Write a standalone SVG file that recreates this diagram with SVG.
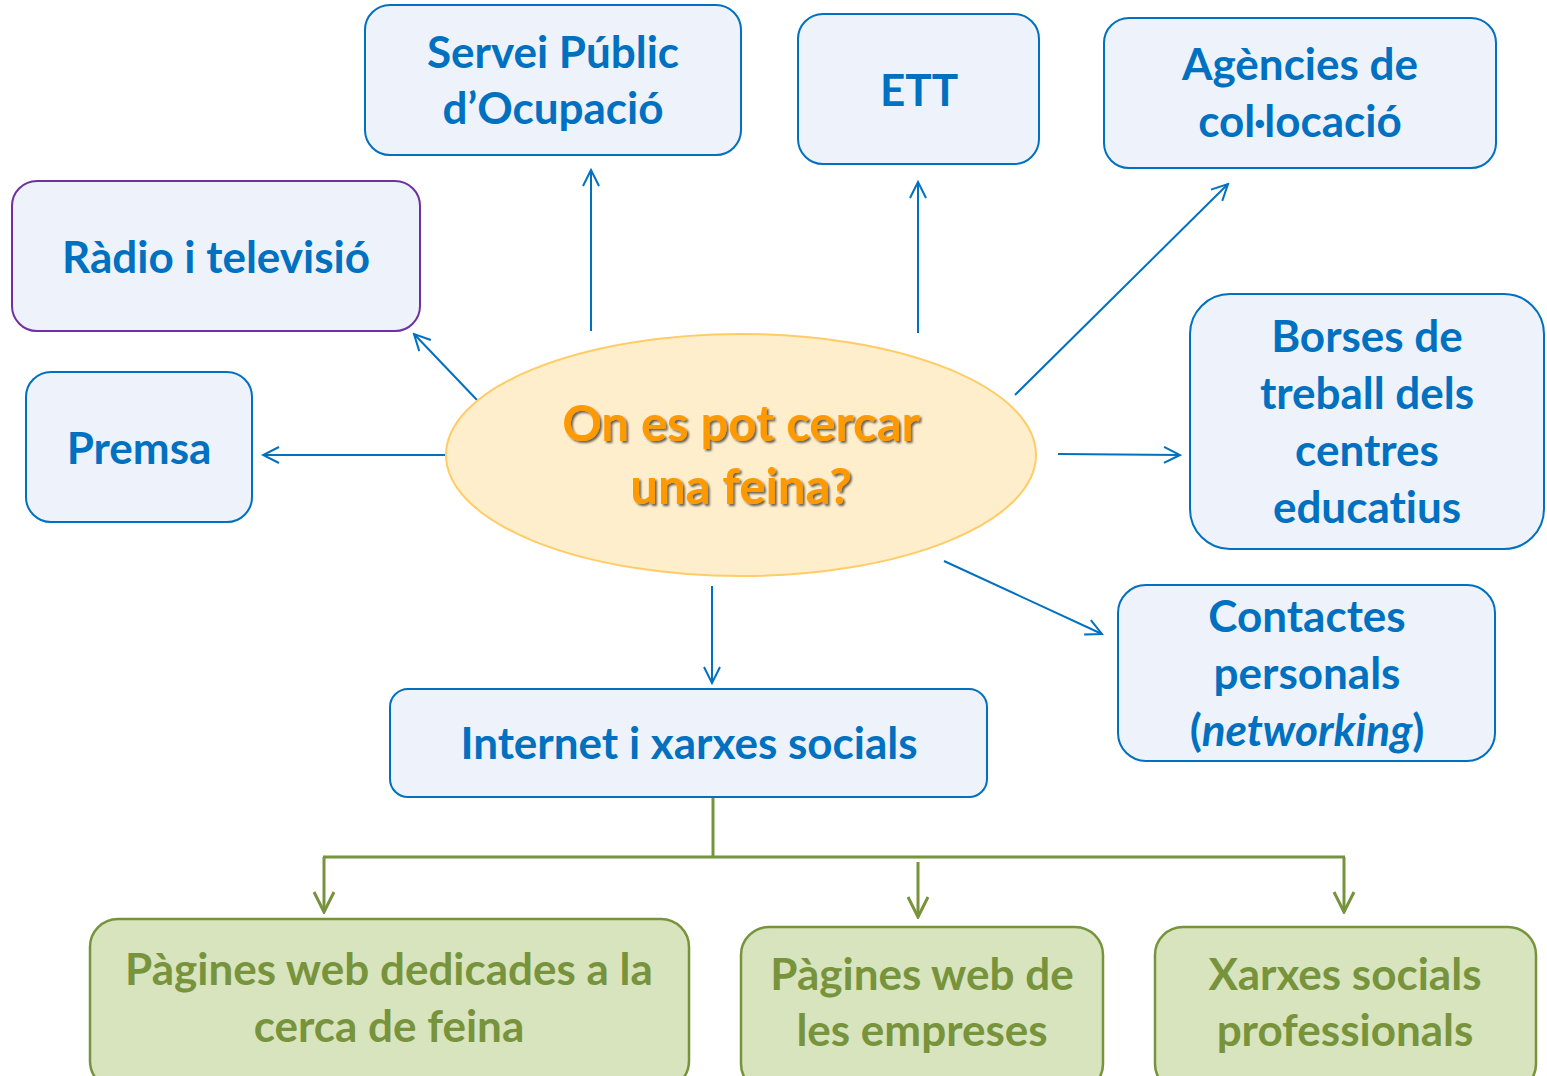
<svg xmlns="http://www.w3.org/2000/svg" width="1547" height="1076" viewBox="0 0 1547 1076">
<defs>
<style>
.bx{fill:#EEF2FA;stroke:#0070C0;stroke-width:2}
.gx{fill:#D7E4BD;stroke:#77933C;stroke-width:2.5}
.t{font-family:Lato,"Open Sans","Liberation Sans",sans-serif;font-weight:bold;font-size:44px;fill:#0070C0;text-anchor:middle;font-variant-ligatures:none}
.g{fill:#77933C}
.c{stroke:#0070C0;stroke-width:2;fill:none;marker-end:url(#ab)}
.cg{stroke:#77933C;stroke-width:3;fill:none}
.ct{font-family:Lato,"Open Sans","Liberation Sans",sans-serif;font-weight:bold;font-size:49px;fill:#FF9900;text-anchor:middle;font-variant-ligatures:none}
</style>
<marker id="ab" viewBox="0 0 20 20" refX="18" refY="10" markerWidth="20" markerHeight="20" markerUnits="userSpaceOnUse" orient="auto">
<path d="M2,2 L18,10 L2,18" fill="none" stroke="#0070C0" stroke-width="2"/>
</marker>
<marker id="ag" viewBox="0 0 24 24" refX="22" refY="12" markerWidth="24" markerHeight="24" markerUnits="userSpaceOnUse" orient="auto">
<path d="M2,2 L22,12 L2,22" fill="none" stroke="#77933C" stroke-width="3"/>
</marker>
<filter id="sh" x="-10%" y="-20%" width="120%" height="140%">
<feDropShadow dx="2" dy="2" stdDeviation="1" flood-color="#000" flood-opacity="0.6"/>
</filter>
</defs>

<g id="connectors">
<line class="c" x1="591" y1="331" x2="591" y2="170"/>
<line class="c" x1="918" y1="333" x2="918" y2="182"/>
<line class="c" x1="1015" y1="395" x2="1228" y2="184"/>
<line class="c" x1="477" y1="400" x2="414" y2="334"/>
<line class="c" x1="445" y1="455" x2="263" y2="455"/>
<line class="c" x1="1058" y1="454" x2="1180" y2="455"/>
<line class="c" x1="944" y1="561" x2="1102" y2="634"/>
<line class="c" x1="712" y1="586" x2="712" y2="683"/>
<line class="cg" x1="713" y1="797" x2="713" y2="857"/>
<line class="cg" x1="323" y1="857" x2="1345" y2="857"/>
<line class="cg" x1="324" y1="857" x2="324" y2="912" marker-end="url(#ag)"/>
<line class="cg" x1="918" y1="862" x2="918" y2="917" marker-end="url(#ag)"/>
<line class="cg" x1="1344" y1="857" x2="1344" y2="912" marker-end="url(#ag)"/>
</g>

<g id="center">
<ellipse cx="741" cy="455" rx="295" ry="121" fill="#FFEECC" stroke="#FFCC66" stroke-width="2"/>
<text class="ct" filter="url(#sh)"><tspan x="741" y="441">On es pot cercar</tspan><tspan x="741" y="504">una feina?</tspan></text>
</g>

<g id="servei">
<rect class="bx" x="365" y="5" width="376" height="150" rx="25"/>
<text class="t"><tspan x="553" y="68">Servei Públic</tspan><tspan x="553" y="124">d’Ocupació</tspan></text>
</g>
<g id="ett">
<rect class="bx" x="798" y="14" width="241" height="150" rx="25"/>
<text class="t" x="919" y="106">ETT</text>
</g>
<g id="agencies">
<rect class="bx" x="1104" y="18" width="392" height="150" rx="25"/>
<text class="t"><tspan x="1300" y="80">Agències de</tspan><tspan x="1300" y="137">col·locació</tspan></text>
</g>
<g id="radio">
<rect x="12" y="181" width="408" height="150" rx="25" fill="#EEF2FA" stroke="#7030A0" stroke-width="2"/>
<text class="t" x="216" y="273">Ràdio i televisió</text>
</g>
<g id="premsa">
<rect class="bx" x="26" y="372" width="226" height="150" rx="25"/>
<text class="t" x="139" y="464">Premsa</text>
</g>
<g id="borses">
<rect class="bx" x="1190" y="294" width="354" height="255" rx="40"/>
<text class="t"><tspan x="1367" y="352">Borses de</tspan><tspan x="1367" y="409">treball dels</tspan><tspan x="1367" y="466">centres</tspan><tspan x="1367" y="523">educatius</tspan></text>
</g>
<g id="contactes">
<rect class="bx" x="1118" y="585" width="377" height="176" rx="28"/>
<text class="t"><tspan x="1307" y="632">Contactes</tspan><tspan x="1307" y="689">personals</tspan><tspan x="1307" y="746">(<tspan font-style="italic">networking</tspan>)</tspan></text>
</g>
<g id="internet">
<rect class="bx" x="390" y="689" width="597" height="108" rx="18"/>
<text class="t" x="689" y="759">Internet i xarxes socials</text>
</g>
<g id="pagines-cerca">
<rect class="gx" x="90" y="919" width="599" height="170" rx="28"/>
<text class="t g"><tspan x="389" y="985">Pàgines web dedicades a la</tspan><tspan x="389" y="1042">cerca de feina</tspan></text>
</g>
<g id="pagines-empreses">
<rect class="gx" x="741" y="927" width="362" height="165" rx="28"/>
<text class="t g"><tspan x="922" y="990">Pàgines web de</tspan><tspan x="922" y="1046">les empreses</tspan></text>
</g>
<g id="xarxes">
<rect class="gx" x="1155" y="927" width="381" height="165" rx="28"/>
<text class="t g"><tspan x="1345" y="990">Xarxes socials</tspan><tspan x="1345" y="1046">professionals</tspan></text>
</g>
</svg>
